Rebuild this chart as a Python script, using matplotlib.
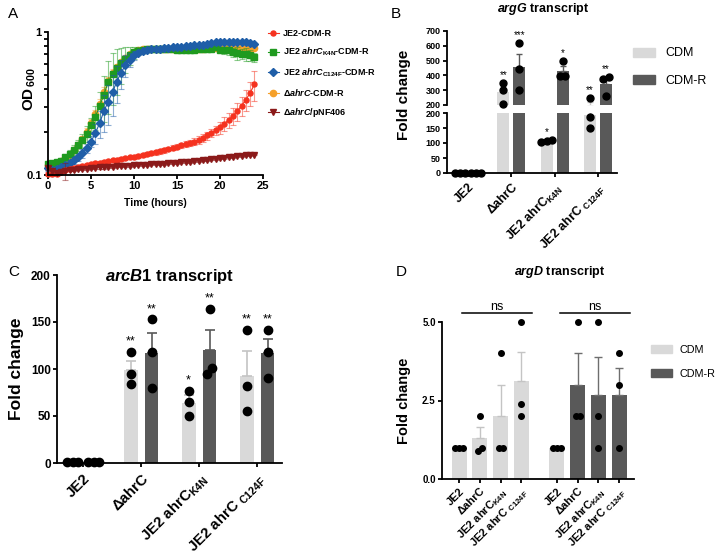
import numpy as np
import matplotlib
matplotlib.use("Agg")
import matplotlib.pyplot as plt
from matplotlib.patches import Patch
from matplotlib.ticker import FixedLocator, NullFormatter

plt.rcParams.update({
    "font.family": ["Liberation Sans", "DejaVu Sans"],
    "font.weight": "bold",
    "axes.labelweight": "bold",
    "axes.titleweight": "bold",
    "mathtext.fontset": "custom",
    "mathtext.rm": "Liberation Sans:bold",
    "mathtext.it": "Liberation Sans:bold:italic",
    "mathtext.bf": "Liberation Sans:bold",
    "axes.linewidth": 1.3,
    "xtick.major.width": 1.3,
    "ytick.major.width": 1.3,
    "xtick.major.size": 3,
    "ytick.major.size": 3,
})

# ---------------- panel A: growth curves ----------------
hours = np.arange(0, 24.5, 0.5)

od_je2 = [0.102, 0.101, 0.102, 0.105, 0.108, 0.110, 0.112, 0.114, 0.116, 0.118,
          0.119, 0.121, 0.122, 0.124, 0.125, 0.127, 0.128, 0.130, 0.131, 0.133,
          0.134, 0.136, 0.138, 0.140, 0.142, 0.144, 0.146, 0.149, 0.152, 0.155,
          0.158, 0.161, 0.164, 0.167, 0.171, 0.176, 0.182, 0.189, 0.197, 0.205,
          0.215, 0.228, 0.243, 0.260, 0.280, 0.305, 0.335, 0.375, 0.430]
sd_je2 = [0.003, 0.003, 0.003, 0.003, 0.003, 0.003, 0.003, 0.003, 0.003, 0.003,
          0.003, 0.003, 0.003, 0.003, 0.003, 0.003, 0.003, 0.003, 0.003, 0.003,
          0.004, 0.004, 0.004, 0.005, 0.005, 0.005, 0.005, 0.006, 0.006, 0.006,
          0.007, 0.007, 0.008, 0.008, 0.009, 0.010, 0.011, 0.012, 0.014, 0.016,
          0.020, 0.025, 0.030, 0.035, 0.040, 0.045, 0.055, 0.070, 0.100]

od_k4n = [0.120, 0.121, 0.123, 0.126, 0.133, 0.140, 0.150, 0.161, 0.175, 0.195,
          0.222, 0.255, 0.302, 0.365, 0.445, 0.510, 0.560, 0.605, 0.650, 0.690,
          0.720, 0.740, 0.750, 0.755, 0.760, 0.760, 0.760, 0.760, 0.755, 0.755,
          0.750, 0.750, 0.750, 0.750, 0.750, 0.755, 0.755, 0.760, 0.765, 0.780,
          0.750, 0.745, 0.745, 0.720, 0.710, 0.705, 0.700, 0.690, 0.665]
sd_k4n = [0.005, 0.005, 0.005, 0.005, 0.008, 0.010, 0.012, 0.015, 0.020, 0.025,
          0.030, 0.050, 0.080, 0.130, 0.180, 0.200, 0.200, 0.170, 0.130, 0.100,
          0.070, 0.040, 0.030, 0.020, 0.010, 0.010, 0.010, 0.010, 0.010, 0.010,
          0.010, 0.010, 0.010, 0.010, 0.010, 0.010, 0.010, 0.010, 0.010, 0.010,
          0.020, 0.040, 0.060, 0.050, 0.070, 0.060, 0.070, 0.060, 0.050]

od_c124f = [0.112, 0.108, 0.110, 0.113, 0.117, 0.121, 0.127, 0.133, 0.142, 0.154,
            0.171, 0.196, 0.230, 0.280, 0.325, 0.380, 0.450, 0.520, 0.585, 0.640,
            0.685, 0.715, 0.735, 0.750, 0.755, 0.760, 0.765, 0.770, 0.775, 0.780,
            0.785, 0.790, 0.795, 0.800, 0.805, 0.810, 0.815, 0.825, 0.835, 0.850,
            0.850, 0.850, 0.850, 0.850, 0.850, 0.850, 0.845, 0.835, 0.820]
sd_c124f = [0.005, 0.005, 0.005, 0.005, 0.005, 0.006, 0.007, 0.008, 0.010, 0.012,
            0.015, 0.030, 0.050, 0.080, 0.100, 0.120, 0.130, 0.120, 0.100, 0.070,
            0.050, 0.030, 0.020, 0.010, 0.010, 0.010, 0.010, 0.010, 0.010, 0.010,
            0.010, 0.010, 0.010, 0.010, 0.010, 0.010, 0.010, 0.010, 0.010, 0.010,
            0.010, 0.010, 0.010, 0.010, 0.010, 0.010, 0.010, 0.010, 0.015]

od_dahrc = [0.118, 0.120, 0.122, 0.125, 0.131, 0.139, 0.149, 0.162, 0.178, 0.200,
            0.230, 0.265, 0.315, 0.380, 0.455, 0.520, 0.570, 0.615, 0.660, 0.700,
            0.725, 0.745, 0.755, 0.760, 0.765, 0.765, 0.765, 0.765, 0.765, 0.765,
            0.765, 0.765, 0.765, 0.765, 0.765, 0.765, 0.765, 0.770, 0.770, 0.775,
            0.775, 0.775, 0.775, 0.775, 0.770, 0.770, 0.770, 0.770, 0.770]
sd_dahrc = [0.004, 0.004, 0.004, 0.004, 0.005, 0.006, 0.007, 0.008, 0.010, 0.012,
            0.015, 0.020, 0.025, 0.030, 0.030, 0.030, 0.025, 0.020, 0.015, 0.010,
            0.010, 0.008, 0.008, 0.008, 0.008, 0.008, 0.008, 0.008, 0.008, 0.008,
            0.008, 0.008, 0.008, 0.008, 0.008, 0.008, 0.008, 0.008, 0.008, 0.008,
            0.010, 0.010, 0.010, 0.010, 0.010, 0.010, 0.010, 0.010, 0.010]

od_pnf = [0.112, 0.106, 0.104, 0.105, 0.107, 0.108, 0.109, 0.110, 0.110, 0.111,
          0.112, 0.112, 0.113, 0.113, 0.114, 0.114, 0.115, 0.115, 0.116, 0.116,
          0.117, 0.117, 0.118, 0.118, 0.119, 0.119, 0.120, 0.120, 0.121, 0.122,
          0.122, 0.123, 0.124, 0.124, 0.125, 0.126, 0.127, 0.128, 0.129, 0.130,
          0.131, 0.132, 0.133, 0.134, 0.135, 0.136, 0.137, 0.138, 0.139]
sd_pnf = [0.003, 0.002, 0.002, 0.002, 0.015, 0.002, 0.002, 0.002, 0.002, 0.002,
          0.002, 0.002, 0.002, 0.002, 0.002, 0.002, 0.002, 0.002, 0.002, 0.002,
          0.002, 0.002, 0.002, 0.002, 0.002, 0.002, 0.002, 0.002, 0.002, 0.002,
          0.002, 0.002, 0.002, 0.002, 0.002, 0.002, 0.002, 0.002, 0.002, 0.002,
          0.002, 0.002, 0.002, 0.002, 0.002, 0.002, 0.002, 0.002, 0.002]

# ---------------- bar panels ----------------
strains = ["JE2", "ΔahrC", r"JE2 ahrC$_{\rm K4N}$", r"JE2 ahrC $_{\rm C124F}$"]

# B: argG
argG_cdm_mean = [1, 288, 108, 195]
argG_cdm_sem = [0, 40, 2, 28]
argG_cdm_pts = [[1, 1, 1], [210, 300, 348], [105, 108, 110], [150, 186, 250]]
argG_cdmr_mean = [1, 455, 432, 342]
argG_cdmr_sem = [0, 90, 33, 30]
argG_cdmr_pts = [[1, 1, 1], [300, 440, 620], [393, 398, 500], [258, 375, 392]]
argG_cdm_sig = ["", "**", "*", "**"]
argG_cdmr_sig = ["", "***", "*", "**"]

# C: arcB1
arcB_cdm_mean = [1, 99, 64, 93]
arcB_cdm_sem = [0, 10, 8, 26]
arcB_cdm_pts = [[1, 1, 1], [84, 95, 118], [50, 65, 77], [55, 82, 142]]
arcB_cdmr_mean = [1, 117, 120, 117]
arcB_cdmr_sem = [0, 21, 22, 15]
arcB_cdmr_pts = [[1, 1, 1], [80, 118, 153], [95, 101, 164], [90, 118, 142]]
arcB_cdm_sig = ["", "**", "*", "**"]
arcB_cdmr_sig = ["", "**", "**", "**"]

# D: argD
argD_cdm_mean = [1, 1.3, 2.0, 3.13]
argD_cdm_sem = [0, 0.35, 1.0, 0.92]
argD_cdm_pts = [[1, 1, 1], [0.9, 1, 2], [1, 1, 4], [2, 2.4, 5]]
argD_cdmr_mean = [1, 3.0, 2.67, 2.67]
argD_cdmr_sem = [0, 1.0, 1.2, 0.88]
argD_cdmr_pts = [[1, 1, 1], [2, 2, 5], [1, 2, 5], [1, 3, 4]]

c_cdm = "#d9d9d9"
c_cdmr = "#595959"
e_cdm = "#c4c4c4"


def spread(vals, tol, dx):
    # side-by-side offsets for points that would overlap
    vals = list(vals)
    offs = [0.0] * len(vals)
    used = [False] * len(vals)
    for i in range(len(vals)):
        if used[i]:
            continue
        grp = [j for j in range(len(vals)) if not used[j] and abs(vals[j] - vals[i]) < tol]
        for k, j in enumerate(grp):
            offs[j] = (k - (len(grp) - 1) / 2) * dx
            used[j] = True
    return offs


def style(ax):
    for s in ["top", "right"]:
        ax.spines[s].set_visible(False)
    ax.tick_params(direction="out")


fig = plt.figure(figsize=(7.2, 5.6), dpi=100)

def fax(l, t, r, b):
    return fig.add_axes([l / 720, 1 - b / 560, (r - l) / 720, (b - t) / 560])

# ================= A =================
axA = fax(48, 32, 263, 175)
series = [
    (od_dahrc, sd_dahrc, "#f5a02a", "o", 4.5, r"Δ$\it{ahrC}$-CDM-R"),
    (od_k4n, sd_k4n, "#1f9a1f", "s", 4.8, r"JE2 $\it{ahrC}_{\rm K4N}$-CDM-R"),
    (od_c124f, sd_c124f, "#1f5ea8", "D", 3.6, r"JE2 $\it{ahrC}_{\rm C124F}$-CDM-R"),
    (od_je2, sd_je2, "#f5321f", "o", 3.6, "JE2-CDM-R"),
    (od_pnf, sd_pnf, "#8b1a1a", "v", 4, r"Δ$\it{ahrC}$/pNF406"),
]
handles = {}
for od, sd, col, mk, ms, lab in series:
    od = np.array(od)
    sd = np.array(sd)
    axA.errorbar(hours, od, yerr=sd, fmt="none", ecolor=col, alpha=0.5,
                 elinewidth=0.8, capsize=2, capthick=0.8, clip_on=False)
    h, = axA.plot(hours, od, color=col, marker=mk, ms=ms, lw=0.8, clip_on=False)
    handles[lab] = h
axA.set_yscale("log")
axA.set_ylim(0.1, 1)
axA.set_xlim(0, 25)
axA.set_xticks([0, 5, 10, 15, 20, 25])
axA.yaxis.set_major_locator(FixedLocator([0.1, 1]))
axA.yaxis.set_minor_locator(FixedLocator([0.2, 0.3, 0.4, 0.5, 0.6, 0.7, 0.8, 0.9]))
axA.yaxis.set_minor_formatter(NullFormatter())
axA.set_yticklabels(["0.1", "1"])
axA.tick_params(which="minor", length=3, width=1.3)
axA.tick_params(labelsize=8, pad=1.5)
style(axA)
axA.set_xlabel("Time (hours)", fontsize=7.5, labelpad=5)
axA.set_ylabel(r"OD$_{\,600}$", fontsize=11)
axA.yaxis.set_label_coords(-0.045, 0.6)
order = ["JE2-CDM-R", r"JE2 $\it{ahrC}_{\rm K4N}$-CDM-R", r"JE2 $\it{ahrC}_{\rm C124F}$-CDM-R",
         r"Δ$\it{ahrC}$-CDM-R", r"Δ$\it{ahrC}$/pNF406"]
fig.legend([handles[k] for k in order], order, loc="center left",
           bbox_to_anchor=(263 / 720, 1 - 74 / 560), frameon=False, fontsize=6.5,
           handlelength=1.3, handletextpad=0.4, labelspacing=0.9, borderpad=0)
fig.text(8 / 720, 1 - 14 / 560, "A", fontsize=11, weight="normal", va="center")

# ================= B (broken axis) =================
axBh = fax(447, 31, 617, 105)
axBl = fax(447, 113, 617, 173)
xB = np.arange(len(strains))
offB, wB, dxB = 0.185, 0.28, 0.12
for ax in (axBh, axBl):
    ax.bar(xB - offB, argG_cdm_mean, wB, color=c_cdm, zorder=1)
    ax.bar(xB + offB, argG_cdmr_mean, wB, color=c_cdmr, zorder=1)
    ax.errorbar(xB - offB, argG_cdm_mean, yerr=[np.zeros(4), argG_cdm_sem], fmt="none",
                ecolor=e_cdm, elinewidth=1, capsize=2.5, capthick=1, zorder=2)
    ax.errorbar(xB + offB, argG_cdmr_mean, yerr=[np.zeros(4), argG_cdmr_sem], fmt="none",
                ecolor=c_cdmr, elinewidth=1, capsize=2.5, capthick=1, zorder=2)
    ax.set_xlim(-0.485, 3.44)
    style(ax)
axBh.set_ylim(200, 700)
axBl.set_ylim(0, 200)
axBh.set_yticks(range(200, 701, 100))
axBl.set_yticks(range(0, 201, 50))
axBh.spines["bottom"].set_visible(False)
axBh.set_xticks([])
for ax in (axBh, axBl):
    ax.tick_params(axis="y", labelsize=6.5, pad=1.5)
axBl.set_xticks(xB)
axBl.set_xticklabels(strains, rotation=45, ha="right", rotation_mode="anchor", fontsize=9)
axBl.tick_params(axis="x", pad=3)

for means, sems, pts, sigs, sgn in [
        (argG_cdm_mean, argG_cdm_sem, argG_cdm_pts, argG_cdm_sig, -1),
        (argG_cdmr_mean, argG_cdmr_sem, argG_cdmr_pts, argG_cdmr_sig, 1)]:
    for i in range(4):
        offs = spread(pts[i], 25, dxB)
        for v, o in zip(pts[i], offs):
            ax = axBh if v > 200 else axBl
            ax.plot(xB[i] + sgn * offB + o, v, "o", color="black", ms=5, zorder=3, clip_on=False)
        top = max(max(pts[i]), means[i] + sems[i])
        if sigs[i]:
            ax = axBh if top > 200 else axBl
            ax.annotate(sigs[i], (xB[i] + sgn * offB, top), xytext=(0, 2),
                        textcoords="offset points", ha="center", va="bottom",
                        fontsize=7, weight="normal")
fig.text(543 / 720, 1 - 9 / 560, r"$\it{argG}$ transcript", fontsize=9, ha="center", va="center")
fig.text(404 / 720, 1 - 95 / 560, "Fold change", fontsize=11, rotation=90, ha="center", va="center")
fig.text(391 / 720, 1 - 14 / 560, "B", fontsize=11, weight="normal", va="center")
fig.legend([Patch(color=c_cdm), Patch(color=c_cdmr)], ["CDM", "CDM-R"], loc="center left",
           bbox_to_anchor=(627 / 720, 1 - 67 / 560), frameon=False,
           prop={"size": 9, "weight": "normal"}, handlelength=1.7, handleheight=0.75,
           handletextpad=0.9, labelspacing=1.2, borderpad=0)

# ================= C =================
axC = fax(57, 275, 282, 463)
xC = np.arange(len(strains))
offC, wC, dxC = 0.18, 0.24, 0.09
axC.bar(xC - offC, arcB_cdm_mean, wC, color=c_cdm, zorder=1)
axC.bar(xC + offC, arcB_cdmr_mean, wC, color=c_cdmr, zorder=1)
axC.errorbar(xC - offC, arcB_cdm_mean, yerr=[np.zeros(4), arcB_cdm_sem], fmt="none",
             ecolor=e_cdm, elinewidth=1.2, capsize=3.5, capthick=1.2, zorder=2)
axC.errorbar(xC + offC, arcB_cdmr_mean, yerr=[np.zeros(4), arcB_cdmr_sem], fmt="none",
             ecolor=c_cdmr, elinewidth=1.2, capsize=3.5, capthick=1.2, zorder=2)
for means, sems, pts, sigs, sgn in [
        (arcB_cdm_mean, arcB_cdm_sem, arcB_cdm_pts, arcB_cdm_sig, -1),
        (arcB_cdmr_mean, arcB_cdmr_sem, arcB_cdmr_pts, arcB_cdmr_sig, 1)]:
    for i in range(4):
        offs = spread(pts[i], 8, dxC)
        axC.plot(xC[i] + sgn * offC + np.array(offs), pts[i], "o", color="black",
                 ms=6, zorder=3, clip_on=False)
        top = max(max(pts[i]), means[i] + sems[i])
        if sigs[i]:
            axC.annotate(sigs[i], (xC[i] + sgn * offC, top), xytext=(0, 3),
                         textcoords="offset points", ha="center", va="bottom",
                         fontsize=9, weight="normal")
axC.set_xlim(-0.45, 3.43)
axC.set_ylim(0, 200)
axC.set_yticks([0, 50, 100, 150, 200])
axC.set_xticks(xC)
axC.set_xticklabels(strains, rotation=45, ha="right", rotation_mode="anchor", fontsize=10.8)
axC.tick_params(axis="y", labelsize=8.5, pad=1.5)
axC.tick_params(axis="x", pad=3)
style(axC)
axC.set_ylabel("Fold change", fontsize=12.5)
axC.yaxis.set_label_coords(-0.145, 0.5)
axC.set_title(r"$\it{arcB}$1 transcript", fontsize=12, pad=-4, y=1.0)
fig.text(8 / 720, 1 - 272 / 560, "C", fontsize=11, weight="normal", va="center")

# ================= D =================
axD = fax(442, 322, 634, 479)
xD = np.r_[np.arange(4), np.arange(4) + 4.7]
wD, dxD = 0.72, 0.19
d_means = argD_cdm_mean + argD_cdmr_mean
d_sems = argD_cdm_sem + argD_cdmr_sem
d_pts = argD_cdm_pts + argD_cdmr_pts
d_cols = [c_cdm] * 5 + [c_cdmr] * 3
d_ecol = [e_cdm] * 5 + ["#6e6e6e"] * 3
axD.bar(xD, d_means, wD, color=d_cols, zorder=1)
for i in range(8):
    axD.errorbar(xD[i], d_means[i], yerr=[[0], [d_sems[i]]], fmt="none", ecolor=d_ecol[i],
                 elinewidth=1, capsize=3, capthick=1, zorder=2)
    offs = spread(d_pts[i], 0.2, dxD)
    axD.plot(xD[i] + np.array(offs), d_pts[i], "o", color="black", ms=4, zorder=3, clip_on=False)
axD.set_xlim(-0.82, 8.41)
axD.set_ylim(0, 5)
axD.set_yticks([0, 2.5, 5])
axD.set_yticklabels(["0.0", "2.5", "5.0"])
axD.set_xticks(xD)
axD.set_xticklabels(strains * 2, rotation=45, ha="right", rotation_mode="anchor", fontsize=8)
axD.tick_params(axis="y", labelsize=7, pad=1.5)
axD.tick_params(axis="x", pad=2)
style(axD)
for g0, g1 in [(0, 3), (4, 7)]:
    x0, x1 = xD[g0] + 0.14, xD[g1] + 0.5
    axD.plot([x0, x1], [5.29, 5.29], color="black", lw=1.1, clip_on=False)
    axD.text((x0 + x1) / 2, 5.29, "ns", ha="center", va="bottom", fontsize=9,
             weight="normal", clip_on=False)
axD.set_ylabel("Fold change", fontsize=10.5)
axD.yaxis.set_label_coords(-0.16, 0.5)
fig.text(560 / 720, 1 - 272 / 560, r"$\it{argD}$ transcript", fontsize=9, ha="center", va="center")
fig.text(396 / 720, 1 - 272 / 560, "D", fontsize=11, weight="normal", va="center")
fig.legend([Patch(color=c_cdm), Patch(color=c_cdmr)], ["CDM", "CDM-R"], loc="center left",
           bbox_to_anchor=(646 / 720, 1 - 362 / 560), frameon=False,
           prop={"size": 7.8, "weight": "normal"}, handlelength=1.9, handleheight=0.8,
           handletextpad=0.7, labelspacing=1.3, borderpad=0)

fig.savefig("out.png", dpi=100)
